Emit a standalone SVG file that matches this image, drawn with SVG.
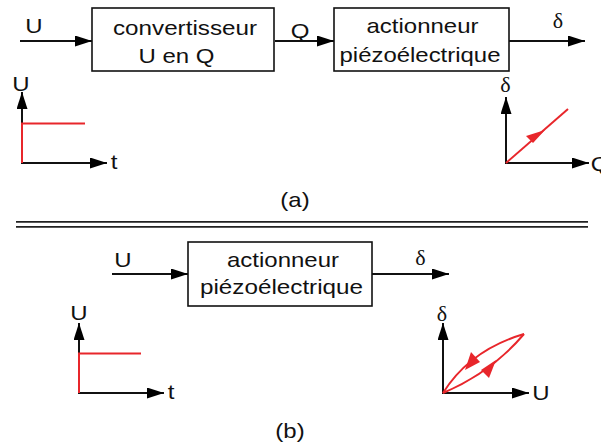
<svg xmlns="http://www.w3.org/2000/svg" width="601" height="446" viewBox="0 0 601 446">
<defs>
<marker id="ah" markerUnits="userSpaceOnUse" markerWidth="18" markerHeight="12" refX="17" refY="5.5" orient="auto">
<path d="M0,0 L17,5.5 L0,11 z" fill="#000"/>
</marker>
</defs>
<style>
.t{font-family:"Liberation Sans",Arial,sans-serif;font-size:21px;fill:#111;text-anchor:middle}
.g{font-family:"Liberation Serif","Times New Roman",serif;font-size:22px;fill:#111;text-anchor:middle}
.box{fill:#fff;stroke:#111;stroke-width:1.6}
.ax{stroke:#111;stroke-width:2;fill:none;marker-end:url(#ah)}
.r{stroke:#e8262b;stroke-width:2;fill:none}
.rh{fill:#e8262b}
</style>
<rect width="601" height="446" fill="#fff"/>

<g id="connectors">
<line class="ax" x1="20" y1="41" x2="92" y2="41"/>
<line class="ax" x1="275" y1="41" x2="334" y2="41"/>
<line class="ax" x1="509" y1="41" x2="585" y2="41"/>
<line class="ax" x1="112" y1="274" x2="188" y2="274"/>
<line class="ax" x1="372" y1="274" x2="449" y2="274"/>
</g>

<g id="box1">
<rect class="box" x="92" y="8" width="182" height="63"/>
<text class="t" x="185" y="35" textLength="144" lengthAdjust="spacingAndGlyphs">convertisseur</text>
<text class="t" x="176.5" y="63" textLength="76" lengthAdjust="spacingAndGlyphs">U en Q</text>
</g>
<g id="box2">
<rect class="box" x="334" y="8" width="175" height="63"/>
<text class="t" x="422.5" y="33" textLength="112" lengthAdjust="spacingAndGlyphs">actionneur</text>
<text class="t" x="420" y="62" textLength="161" lengthAdjust="spacingAndGlyphs">piézoélectrique</text>
</g>
<g id="labels-a">
<text class="t" x="34" y="33" textLength="17.3" lengthAdjust="spacingAndGlyphs">U</text>
<text class="t" x="300" y="38" textLength="18.7" lengthAdjust="spacingAndGlyphs">Q</text>
<text class="g" x="558" y="28">δ</text>
</g>

<g id="graph-a-left">
<line class="ax" x1="22" y1="164" x2="22" y2="92"/>
<line class="ax" x1="21" y1="163" x2="107" y2="163"/>
<path class="r" d="M22,163 V123.5 H85"/>
<text class="t" x="21" y="91" textLength="17.3" lengthAdjust="spacingAndGlyphs">U</text>
<text class="t" x="114" y="169" textLength="6.7" lengthAdjust="spacingAndGlyphs">t</text>
</g>

<g id="graph-a-right">
<line class="ax" x1="506" y1="164" x2="506" y2="97"/>
<line class="ax" x1="505" y1="163" x2="589" y2="163"/>
<line class="r" x1="506" y1="163" x2="568" y2="109"/>
<polygon class="rh" points="545,130 526,136 533,143"/>
<text class="g" x="505.5" y="92">δ</text>
<text class="t" x="600" y="171" textLength="18.7" lengthAdjust="spacingAndGlyphs">Q</text>
</g>

<text class="t" x="295" y="207" textLength="29.3" lengthAdjust="spacingAndGlyphs">(a)</text>

<g id="separator">
<line x1="16" y1="221.8" x2="588" y2="221.8" stroke="#222" stroke-width="1.8"/>
<line x1="16" y1="226.8" x2="588" y2="226.8" stroke="#222" stroke-width="1.8"/>
</g>

<g id="box3">
<rect class="box" x="188" y="242" width="184" height="64"/>
<text class="t" x="283" y="267" textLength="112" lengthAdjust="spacingAndGlyphs">actionneur</text>
<text class="t" x="281.5" y="294" textLength="163" lengthAdjust="spacingAndGlyphs">piézoélectrique</text>
</g>
<g id="labels-b">
<text class="t" x="123" y="267" textLength="17.3" lengthAdjust="spacingAndGlyphs">U</text>
<text class="g" x="420.5" y="265">δ</text>
</g>

<g id="graph-b-left">
<line class="ax" x1="79" y1="394" x2="79" y2="323"/>
<line class="ax" x1="78" y1="393" x2="164" y2="393"/>
<path class="r" d="M79,393 V353.5 H141"/>
<text class="t" x="79" y="320" textLength="17.3" lengthAdjust="spacingAndGlyphs">U</text>
<text class="t" x="171" y="399" textLength="6.7" lengthAdjust="spacingAndGlyphs">t</text>
</g>

<g id="graph-b-right">
<line class="ax" x1="443" y1="394" x2="443" y2="323"/>
<line class="ax" x1="442" y1="393" x2="529" y2="393"/>
<path class="r" d="M443,393 Q470,350 524,334"/>
<path class="r" d="M443,393 Q492,372 524,334"/>
<polygon class="rh" points="465,370 471,352 480,362"/>
<polygon class="rh" points="496,360 481,370 489,378"/>
<text class="g" x="442" y="321">δ</text>
<text class="t" x="541" y="400" textLength="17.3" lengthAdjust="spacingAndGlyphs">U</text>
</g>

<text class="t" x="290" y="438" textLength="29.3" lengthAdjust="spacingAndGlyphs">(b)</text>
</svg>
